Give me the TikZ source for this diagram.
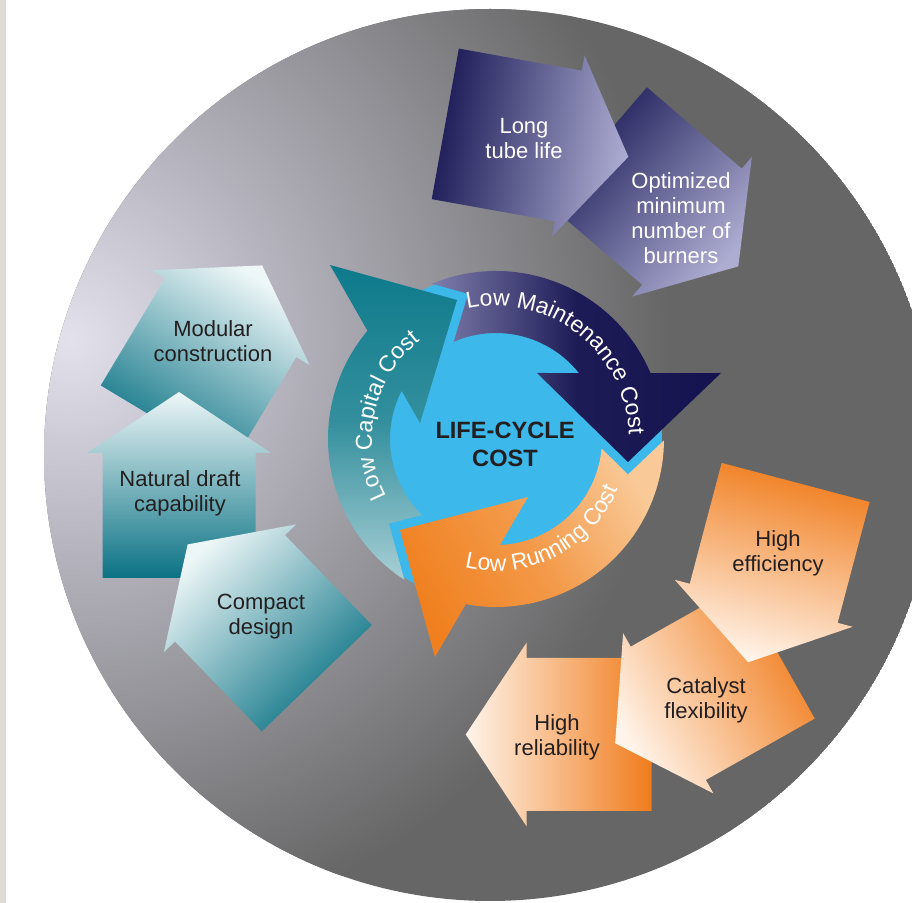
\documentclass[tikz,border=0pt]{standalone}
\usepackage{fontspec}
\setmainfont{Liberation Sans}
\usetikzlibrary{calc}
\usetikzlibrary{calc,decorations.text}

\definecolor{discgray}{HTML}{666666}
\definecolor{glowA}{HTML}{E2E1EC}
\definecolor{glowB}{HTML}{B4B3BD}
\definecolor{strip}{HTML}{DDDBD4}
\definecolor{cycblue}{HTML}{3CB8EA}
\definecolor{txtdark}{HTML}{231F20}
\definecolor{tealD}{HTML}{0A7284}
\definecolor{tealW}{HTML}{EEF7F8}
\definecolor{navyD}{HTML}{1A1955}
\definecolor{navyW}{HTML}{ADADD2}
\definecolor{orngD}{HTML}{F07C1C}
\definecolor{orngW}{HTML}{FFF4EA}
\definecolor{tealCD}{HTML}{0D7A8B}
\definecolor{tealCL}{HTML}{A8CFD5}
\definecolor{navyCD}{HTML}{15134F}
\definecolor{navyCL}{HTML}{7E7DAB}
\definecolor{orngCD}{HTML}{F0801F}
\definecolor{orngCL}{HTML}{F9C997}
% 25bp of the shading is the radius of the shaded circle
\pgfdeclareradialshading{discglow}{\pgfpoint{0bp}{0bp}}{%
  color(0bp)=(glowA); color(9bp)=(glowB); color(25bp)=(discgray); color(50bp)=(discgray)}

\newcommand{\BodyLen}{125}
\newcommand{\BodyHalf}{76.5}
\newcommand{\HeadHalf}{92}
\newcommand{\HeadLen}{61}
\newcommand{\RingOut}{168}
\newcommand{\RingIn}{106}

\tikzset{Label/.style={
    inner sep=0pt,
    align=center,
    text=txtdark,
    font=\fontsize{11}{12.5}\selectfont,
    }
}

% block arrow: style, base centre, direction (screen degrees)
\newcommand{\BlockArrow}[3]{%
  \pgfmathsetmacro{\shadeang}{-(#3)-90}
  \path[#1, shading angle=\shadeang]
    ($(#2)+(#3:-\BodyLen)+(#3+90:\BodyHalf)$) -- ($(#2)+(#3+90:\BodyHalf)$)
    -- ($(#2)+(#3+90:\HeadHalf)$) -- ($(#2)+(#3:\HeadLen)$)
    -- ($(#2)+(#3-90:\HeadHalf)$) -- ($(#2)+(#3-90:\BodyHalf)$)
    -- ($(#2)+(#3:-\BodyLen)+(#3-90:\BodyHalf)$) -- cycle;
}

\begin{document}
\begin{tikzpicture}[x=0.5pt, y=-0.5pt,
    tealblock/.style={top color=tealW, bottom color=tealD},
    navyblock/.style={top color=navyW, bottom color=navyD},
    orngblock/.style={top color=orngW, bottom color=orngD},
    ringtext/.style={decorate, decoration={text along path, text align=center,
        text color=white, text={|\fontsize{11.5}{13}\selectfont|#1}}},
]
\useasboundingbox (0,0) rectangle (912,903);
\fill[white] (0,0) rectangle (912,903);
\fill[strip] (0,0) rectangle (6,903);

% grey disc with light spot
\coordinate (disc) at (490,455);
\coordinate (glow) at (70,340);
\begin{scope}
  \clip (disc) circle (446);
  \fill[discgray] (disc) circle (446);
  \shade[shading=discglow] (glow) circle (600);
\end{scope}

% cycle in the middle
\coordinate (cyc) at (496,439);
\fill[cycblue] (cyc) circle (166);

\path[top color=tealCD, bottom color=tealCL, middle color=tealCD!75!tealCL]
  ($(cyc)+(134.2:\RingIn)$) -- (388.9,523.6) -- ($(cyc)+(123.05:\RingOut)$)
  arc[start angle=123.05, end angle=220.1, radius=\RingOut]
  -- (330,265) -- (457,300) -- (420,423) -- ($(cyc)+(207.1:\RingIn)$)
  arc[start angle=207.1, end angle=134.2, radius=\RingIn] -- cycle;

\path[left color=navyCL, right color=navyCD, middle color=navyCD!92!navyCL]
  ($(cyc)+(246.5:\RingIn)$) -- (468.2,293.8) -- ($(cyc)+(247.6:\RingOut)$)
  arc[start angle=247.6, end angle=336.9, radius=\RingOut]
  -- (721,373) -- (628,462) -- (537,373) -- ($(cyc)+(321.5:\RingIn)$)
  arc[start angle=321.5, end angle=246.5, radius=\RingIn] -- cycle;

\path[top color=orngCL, bottom color=orngCD, middle color=orngCD!65!orngCL, shading angle=-59]
  ($(cyc)+(5.1:\RingIn)$) -- (627.9,474.5) -- ($(cyc)+(0.44:\RingOut)$)
  arc[start angle=0.44, end angle=100.4, radius=\RingOut]
  -- (435,657) -- (400,530) -- (528,497) -- ($(cyc)+(87.8:\RingIn)$)
  arc[start angle=87.8, end angle=5.1, radius=\RingIn] -- cycle;

\path[ringtext={Low Capital Cost}] ($(cyc)+(145:124)$)
  arc[start angle=145, end angle=240, radius=124];
\path[ringtext={Low Maintenance Cost}] ($(cyc)+(254:133)$)
  arc[start angle=254, end angle=362, radius=133];
\path[ringtext={Low Running Cost}] ($(cyc)+(112:132)$)
  arc[start angle=112, end angle=14, radius=132];

\node[align=center, text=txtdark, font=\fontsize{11.8}{14}\selectfont\bfseries]
  (lifecycle) at (505,444) {LIFE-CYCLE\\COST};

% teal group
\coordinate (modularB) at (230.7,317.7);
\coordinate (naturalB) at (179,453);
\coordinate (compactB) at (230,588.3);
\BlockArrow{tealblock}{modularB}{-59}
\BlockArrow{tealblock}{naturalB}{-90}
\BlockArrow{tealblock}{compactB}{-134}

% navy group
\coordinate (optimB) at (692,226.7);
\coordinate (tubeB) at (568.3,146);
\BlockArrow{navyblock}{optimB}{40.6}
\BlockArrow{navyblock}{tubeB}{10.2}

% orange group
\coordinate (relB) at (526.7,734.5);
\coordinate (catB) at (668.3,713.3);
\coordinate (effB) at (763.7,603.3);
\BlockArrow{orngblock}{relB}{180}
\BlockArrow{orngblock}{catB}{150.6}
\BlockArrow{orngblock}{effB}{104.8}

\node[Label] (modular) at (213,341) {Modular\\construction};
\node[Label] (natural) at (180,493) {Natural draft\\capability};
\node[Label] (compact) at (261,617) {Compact\\design};
\node[Label, text=white] (tubelife) at (524,139) {Long\\tube life};
\node[Label, text=white] (burners) at (681,218) {Optimized\\minimum\\number of\\burners};
\node[Label] (efficiency) at (778,553) {High\\efficiency};
\node[Label] (catalyst) at (706,700) {Catalyst\\flexibility};
\node[Label] (reliability) at (557,737) {High\\reliability};
\end{tikzpicture}
\end{document}
